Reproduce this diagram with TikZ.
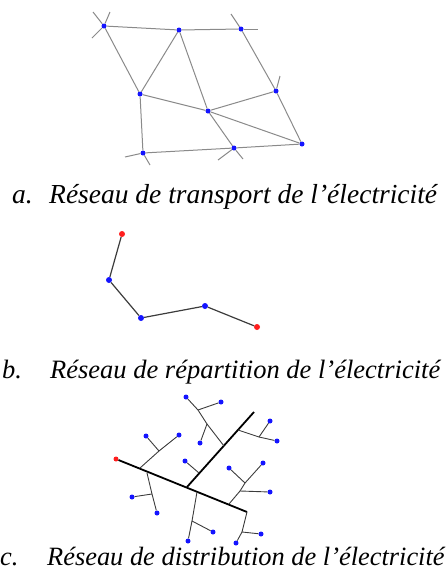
\documentclass[tikz,border=0pt]{standalone}
\usepackage{fontspec}
\setmainfont{Liberation Serif}
\definecolor{wire}{HTML}{8A8A8A}
\definecolor{darkwire}{HTML}{3C3C3C}
\definecolor{busblue}{HTML}{1414FF}
\definecolor{busred}{HTML}{FF1E1E}
\tikzset{
  bus/.style={circle,fill=busblue,inner sep=0pt,minimum size=5pt},
  source/.style={bus,fill=busred},
  hvline/.style={draw=wire,line width=1pt},
  mvline/.style={draw=darkwire,line width=1.2pt},
  lvline/.style={draw=darkwire,line width=0.9pt},
  feeder/.style={draw=black,line width=1.8pt},
  caption/.style={anchor=base west,inner sep=0pt,font=\fontsize{#1}{30}\selectfont\itshape}
}
\begin{document}
\begin{tikzpicture}[x=1pt,y=-1pt]
  \useasboundingbox (0,0) rectangle (447,581);
  % a. transport (meshed)
  \foreach \n/\x/\y in {A/104/26,B/179/30,C/241/29,D/140/94,E/208/111,F/276/91,G/302/144,H/143/153,I/234/148}{
    \node[bus] (\n) at (\x,\y) {};}
  \foreach \n/\x/\y in {a1/93/12,a2/110/12,a3/92/38,c1/258/29,c2/231/14,f1/280/76,h1/125/157,h2/150/165,i1/218/160,i2/243/159}{
    \coordinate (\n) at (\x,\y);}
  \foreach \a/\b in {A/B,B/C,A/D,B/D,B/E,D/E,E/F,E/G,E/I,C/F,F/G,D/H,H/I,I/G,
                     A/a1,A/a2,A/a3,C/c1,C/c2,F/f1,H/h1,H/h2,I/i1,I/i2}{
    \draw[hvline] (\a) -- (\b);}
  \node[caption=27.5] (capAl) at (12,203) {a.};
  \node[caption=27.5] (capA) at (49,203) {Réseau de transport de l’électricité};
  % b. repartition (radial)
  \node[source,minimum size=6pt] (R1) at (122,234) {};
  \node[bus,minimum size=6pt] (P1) at (109,280) {};
  \node[bus,minimum size=6pt] (P2) at (141,318) {};
  \node[bus,minimum size=6pt] (P3) at (205,306) {};
  \node[source,minimum size=6pt] (R2) at (257,327) {};
  \draw[mvline] (R1) -- (P1) -- (P2) -- (P3) -- (R2);
  \node[caption=26.5] (capBl) at (2,378) {b.};
  \node[caption=26.5] (capB) at (50,378) {Réseau de répartition de l’électricité};
  % c. distribution (tree)
  \node[source] (root) at (116,459) {};
  \foreach \n/\x/\y in {L1/146/436,L2/179/435,L3/132/497,L4/157/513,L5/186/397,L6/221/402,L7/200/443,
                        L8/270/421,L9/277/441,L10/185/461,L11/229/468,L12/263/463,L13/270/492,
                        L14/188/541,L15/213/532,L16/236/543,L17/261/534}{
    \node[bus] (\n) at (\x,\y) {};}
  \foreach \n/\x/\y in {k1/247/512,k2/242/532,s0/187/487,s1/254/412,
                        j1/140/468,f1/159/451,j2/147/473,f2/152/494,
                        j3/224/446,f3/207/424,g3/198/410,j4/238/430,f4/259/437,j5/199/473,
                        j6/229/504,f6/240/491,g6/245/483,j7/197/492,f7/192/521}{
    \coordinate (\n) at (\x,\y);}
  \draw[feeder] (root) -- (k1);
  \draw[feeder] (s0) -- (s1);
  \draw[lvline] (k1) -- (k2) -- (L16);
  \foreach \a/\b in {k2/L17,j1/f1,f1/L1,f1/L2,j2/f2,f2/L3,f2/L4,
                     j3/f3,f3/g3,g3/L5,g3/L6,f3/L7,j4/f4,f4/L9,f4/L8,L10/j5,
                     j6/f6,f6/g6,g6/L11,g6/L12,f6/L13,j7/f7,f7/L14,f7/L15}{
    \draw[lvline] (\a) -- (\b);}
  \node[caption=26.4] (capCl) at (0,565) {c.};
  \node[caption=26.4] (capC) at (47,565) {Réseau de distribution de l’électricité};
\end{tikzpicture}
\end{document}
